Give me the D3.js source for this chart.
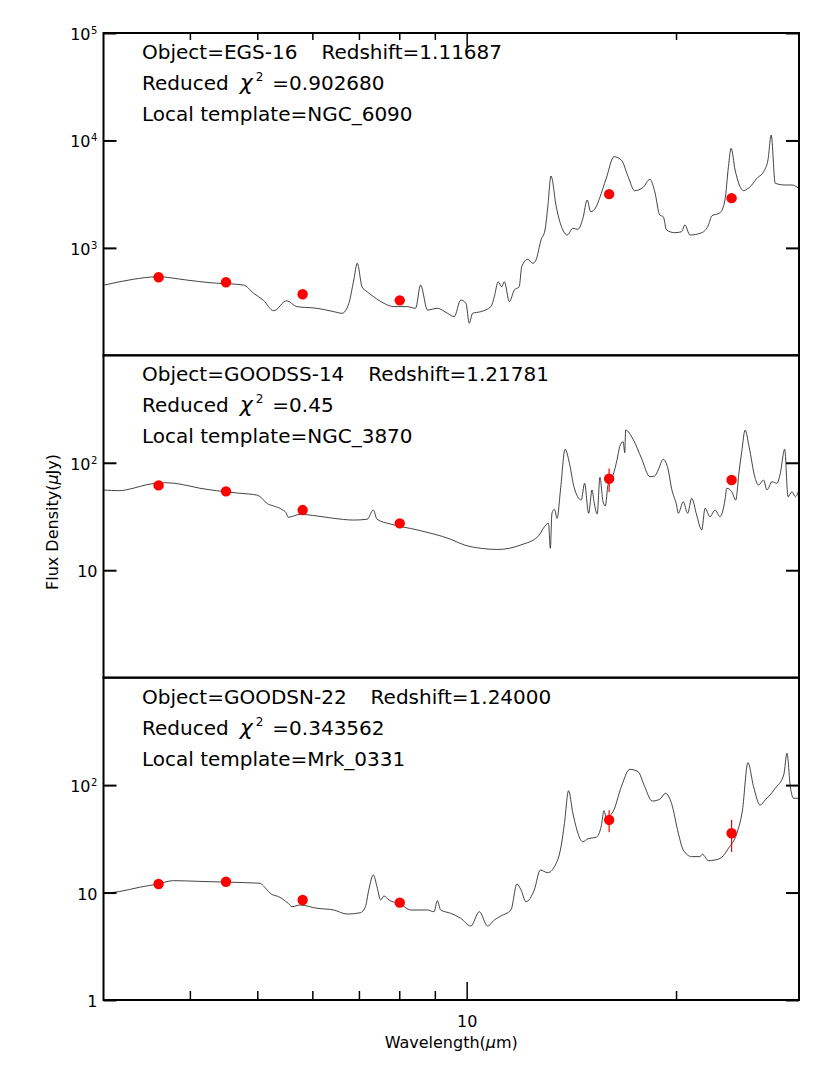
<!DOCTYPE html>
<html><head><meta charset="utf-8">
<script src="https://cdn.jsdelivr.net/npm/d3@7"></script>
<style>body{margin:0;background:#fff}</style>
</head><body>
<svg id="chart" width="830" height="1068"></svg>
<script>
// ---- panel annotations ----
const objects = ["EGS-16", "GOODSS-14", "GOODSN-22"];
const redshifts = ["1.11687", "1.21781", "1.24000"];
const chi2 = ["0.902680", "0.45", "0.343562"];
const templates = ["NGC_6090", "NGC_3870", "Mrk_0331"];

// ---- axes ----
const xDomain = [3, 30];
const xMinorTicks = [4, 5, 6, 7, 8, 9, 20];
const xMajorTicks = [10];
const xTickLabels = ["10"];
const yDomains = [[100, 1e5], [1, 1000], [1, 1000]];
const yTickValues = [[1e3, 1e4, 1e5], [10, 100], [1, 10, 100]];
const yTickLabels = [[["10","3"],["10","4"],["10","5"]], [["10",""],["10","2"]], [["1",""],["10",""],["10","2"]]];

// ---- photometry (observed wavelength, um) ----
const photWave = [3.6, 4.5, 5.8, 8.0, 16, 24];
const phot1 = [533, 479, 370, 325, 3162, 2903];
const phot1Err = [0, 0, 0, 0, 0, 0];
const phot2 = [61.6, 54.2, 36.3, 27.3, 71.0, 69.1];
const phot2Err = [0, 0, 0, 0, 17.5, 4];
const phot3 = [12.0, 12.6, 8.53, 8.05, 47.4, 35.6];
const phot3Err = [0, 0, 0, 0, 11, 11.8];

// ---- template spectra ----
const spec1Wave = [3.01,3.31,3.59,3.95,4.27,4.77,4.93,5.09,5.27,5.50,5.69,6.08,6.43,6.61,6.76,6.87,6.95,7.06,7.18,7.34,7.59,7.85,8.20,8.43,8.57,8.77,9.06,9.37,9.58,9.79,9.96,10.07,10.18,10.46,10.82,10.94,11.08,11.21,11.31,11.50,11.69,11.88,11.98,12.22,12.43,12.56,12.77,12.94,13.06,13.20,13.43,13.93,14.19,14.43,14.67,14.88,15.05,15.33,15.50,15.85,16.26,16.66,17.04,17.41,17.91,18.31,18.61,18.92,19.14,19.35,19.89,20.34,20.56,20.91,21.74,22.23,22.47,23.10,23.48,23.75,23.96,24.28,24.97,25.24,25.66,26.09,26.68,27.07,27.36,27.73,28.67,29.31,29.97];
const spec1Flux = [451,510,539,502,474,451,378,327,260,322,284,274,255,246,305,502,719,435,391,351,305,284,284,274,451,264,274,246,229,327,305,199,246,255,284,351,484,435,484,316,406,435,668,783,719,771,1184,1467,2417,4667,2417,1318,1521,1489,1885,2790,2171,2417,2893,4442,7059,6575,4597,3406,3663,4348,3334,2023,1951,1467,1385,1415,1633,1318,1385,1633,1980,2125,2790,5696,8450,5308,3406,3510,3848,4442,5117,6575,11235,3991,3848,3848,3585];

const spec2Wave = [3.00,3.16,3.31,3.46,3.70,3.86,4.13,4.36,4.71,4.98,5.07,5.15,5.27,5.41,5.49,5.53,5.75,6.08,6.43,6.87,7.18,7.33,7.42,7.76,8.48,9.47,9.90,10.46,11.06,11.95,12.63,13.09,13.17,13.24,13.35,13.47,13.62,13.83,14.03,14.24,14.59,14.75,14.95,15.12,15.22,15.38,15.52,15.68,15.80,15.94,16.21,16.43,16.57,16.76,16.85,16.90,17.32,17.81,18.31,18.61,18.82,19.14,19.46,19.67,20.00,20.12,20.45,20.75,21.03,21.38,21.74,21.98,22.34,22.72,23.10,23.48,23.62,24.01,24.33,24.60,24.82,25.10,25.43,25.95,26.24,26.68,26.98,27.43,27.89,28.20,28.61,28.93,29.31,29.64,29.97];
const spec2Flux = [55.8,55.0,57.9,62.5,65.2,63.4,57.9,55.0,52.0,50.1,46.7,42.0,39.6,36.9,34.3,31.1,33.1,32.0,30.4,29.3,29.8,36.3,29.8,26.9,23.7,19.4,17.2,16.0,15.6,17.2,20.5,27.3,16.0,33.9,36.9,30.4,55.8,133.5,98.9,59.9,45.0,64.4,33.9,55.8,43.4,33.4,73.2,43.4,39.6,62.1,76.9,107.7,141.1,157.1,124.1,201.8,165.3,110.0,74.2,75.3,85.6,107.7,85.6,57.9,40.5,33.9,43.4,33.9,46.7,32.6,23.7,37.7,31.5,36.3,31.5,45.0,57.9,53.8,45.0,82.6,126.8,201.8,141.1,71.7,62.1,69.1,55.8,66.6,64.4,79.8,133.5,48.3,53.8,48.3,55.0];

const spec3Wave = [3.00,3.16,3.38,3.59,3.78,4.13,4.50,5.04,5.09,5.21,5.38,5.53,5.60,5.75,6.08,6.43,6.72,7.02,7.14,7.22,7.33,7.42,7.51,7.59,7.72,8.02,8.29,8.77,8.96,9.06,9.16,9.47,9.79,10.12,10.41,10.70,10.94,11.18,11.56,11.79,11.95,12.15,12.49,12.74,13.06,13.35,13.65,13.80,13.99,14.19,14.67,14.92,15.33,15.59,15.73,15.85,16.21,16.66,17.13,17.61,18.00,18.45,18.92,19.28,19.67,20.12,20.45,21.03,21.61,21.79,22.23,22.72,23.23,23.75,24.42,24.88,25.33,25.81,26.38,26.82,27.18,27.73,28.52,28.83,29.15,29.48,30.0];
const spec3Flux = [9.84,10.2,11.2,12.0,12.9,12.7,12.5,12.2,11.6,9.84,9.03,7.94,7.38,7.66,7.14,6.88,6.31,6.49,7.38,10.6,14.6,11.3,8.52,9.29,8.52,7.82,6.88,6.88,6.63,8.40,6.88,6.41,5.76,4.88,6.63,4.88,5.55,6.05,6.88,12.0,10.6,8.22,10.6,16.2,15.3,17.4,27.1,44.1,88.7,54.7,29.7,31.7,32.7,41.6,57.8,50.2,56.6,96.6,140.3,133.3,96.6,71.1,73.8,83.9,67.7,35.6,24.9,21.6,21.6,22.7,19.8,20.1,21.3,25.8,35.6,58.7,161.6,96.6,65.3,72.7,79.2,93.4,124.2,197.8,96.6,75.4,75.4];

const specWaves = [spec1Wave, spec2Wave, spec3Wave];
const specFluxes = [spec1Flux, spec2Flux, spec3Flux];
const phots = [phot1, phot2, phot3];
const photErrs = [phot1Err, phot2Err, phot3Err];

// ---- layout ----
const plotL = 103.5, plotR = 799, plotT = 33, panelH = 322.33;
const FONT = "DejaVu Sans, Verdana, sans-serif";
const svg = d3.select("#chart");
svg.append("rect").attr("width", 830).attr("height", 1068).attr("fill", "#fff");

const x = d3.scaleLog().domain(xDomain).range([plotL, plotR]);

for (let i = 0; i < 3; i++) {
  const pTop = plotT + i * panelH, pBot = pTop + panelH;
  const y = d3.scaleLog().domain(yDomains[i]).range([pBot, pTop]);
  const g = svg.append("g");

  const clipId = "clip" + i;
  svg.append("clipPath").attr("id", clipId).append("rect")
    .attr("x", plotL).attr("y", pTop).attr("width", plotR - plotL).attr("height", panelH);

  // spectrum
  const pts = specWaves[i].map((w, k) => [w, specFluxes[i][k]]);
  g.append("path").datum(pts)
    .attr("clip-path", `url(#${clipId})`)
    .attr("fill", "none").attr("stroke", "#222").attr("stroke-width", 0.85)
    .attr("stroke-linejoin", "round")
    .attr("d", d3.line().curve(d3.curveMonotoneX).x(d => x(d[0])).y(d => y(d[1])));

  // photometry error bars
  g.selectAll(".err").data(photWave.map((w, k) => ({w, f: phots[i][k], e: photErrs[i][k]})).filter(d => d.e > 0))
    .enter().append("line")
    .attr("x1", d => x(d.w)).attr("x2", d => x(d.w))
    .attr("y1", d => y(d.f + d.e)).attr("y2", d => y(d.f - d.e))
    .attr("stroke", "#ff0000").attr("stroke-width", 1.2);
  // photometry points
  g.selectAll(".pt").data(photWave.map((w, k) => ({w, f: phots[i][k]})))
    .enter().append("circle")
    .attr("cx", d => x(d.w)).attr("cy", d => y(d.f)).attr("r", 5.2)
    .attr("fill", "#ff0000");

  // y ticks (left & right, inward)
  const ly = g.append("g").attr("transform", `translate(${plotL},0)`)
    .call(d3.axisRight(y).tickValues(yTickValues[i]).tickSize(13).tickFormat(""));
  ly.select(".domain").remove();
  const ry = g.append("g").attr("transform", `translate(${plotR},0)`)
    .call(d3.axisLeft(y).tickValues(yTickValues[i]).tickSize(13).tickFormat(""));
  ry.select(".domain").remove();
  g.selectAll(".tick line").attr("stroke", "#000").attr("stroke-width", 2);

  // y tick labels
  yTickValues[i].forEach((v, k) => {
    const [base, ex] = yTickLabels[i][k];
    svg.append("text").attr("x", ex ? plotL - 13 : plotL - 6).attr("y", y(v) + 7)
      .attr("text-anchor", "end").attr("font-family", FONT).attr("font-size", 16).attr("fill", "#000")
      .text(base);
    if (ex) {
      svg.append("text").attr("x", plotL - 12.5).attr("y", y(v) + 1)
        .attr("font-family", FONT).attr("font-size", 10).attr("fill", "#000").text(ex);
    }
  });

  // frame
  svg.append("rect").attr("x", plotL).attr("y", pTop).attr("width", plotR - plotL).attr("height", panelH)
    .attr("fill", "none").attr("stroke", "#000").attr("stroke-width", 2);

  // annotations
  const tx = 142, fs = 20;
  const t1 = svg.append("text").attr("x", tx).attr("y", pTop + 26)
    .attr("font-family", FONT).attr("font-size", fs).attr("fill", "#000");
  t1.append("tspan").text("Object=" + objects[i]);
  t1.append("tspan").attr("dx", 24).text("Redshift=" + redshifts[i]);

  const t2 = svg.append("text").attr("x", tx).attr("y", pTop + 57)
    .attr("font-family", FONT).attr("font-size", fs).attr("fill", "#000");
  t2.append("tspan").text("Reduced");
  t2.append("tspan").attr("dx", 11).attr("font-style", "italic").attr("font-size", 22).text("\u03C7");
  t2.append("tspan").attr("dx", 3).attr("dy", -9).attr("font-size", 12).text("2");
  t2.append("tspan").attr("dx", 9).attr("dy", 9).text("=" + chi2[i]);

  svg.append("text").attr("x", tx).attr("y", pTop + 88)
    .attr("font-family", FONT).attr("font-size", fs).attr("fill", "#000")
    .text("Local template=" + templates[i]);
}

// x ticks: top of first panel and bottom of last
const yTopAxis = plotT, yBotAxis = plotT + 3 * panelH;
const xt = svg.append("g");
xMinorTicks.forEach(v => {
  xt.append("line").attr("x1", x(v)).attr("x2", x(v)).attr("y1", yBotAxis).attr("y2", yBotAxis - 9)
    .attr("stroke", "#000").attr("stroke-width", 1.5);
  xt.append("line").attr("x1", x(v)).attr("x2", x(v)).attr("y1", yTopAxis).attr("y2", yTopAxis + 7)
    .attr("stroke", "#000").attr("stroke-width", 1.5);
});
xMajorTicks.forEach((v, k) => {
  xt.append("line").attr("x1", x(v)).attr("x2", x(v)).attr("y1", yBotAxis).attr("y2", yBotAxis - 18)
    .attr("stroke", "#000").attr("stroke-width", 1.5);
  xt.append("line").attr("x1", x(v)).attr("x2", x(v)).attr("y1", yTopAxis).attr("y2", yTopAxis + 14)
    .attr("stroke", "#000").attr("stroke-width", 1.5);
  svg.append("text").attr("x", x(v)).attr("y", yBotAxis + 27).attr("text-anchor", "middle")
    .attr("font-family", FONT).attr("font-size", 16).attr("fill", "#000").text(xTickLabels[k]);
});

// axis titles
svg.append("text").attr("x", (plotL + plotR) / 2).attr("y", 1048).attr("text-anchor", "middle")
  .attr("font-family", FONT).attr("font-size", 16).attr("fill", "#000")
  .html('Wavelength(<tspan font-style="italic">\u03BC</tspan>m)');
svg.append("text").attr("transform", "translate(58,522) rotate(-90)").attr("text-anchor", "middle")
  .attr("font-family", FONT).attr("font-size", 16).attr("fill", "#000")
  .html('Flux Density(<tspan font-style="italic">\u03BC</tspan>Jy)');
</script>
</body></html>
